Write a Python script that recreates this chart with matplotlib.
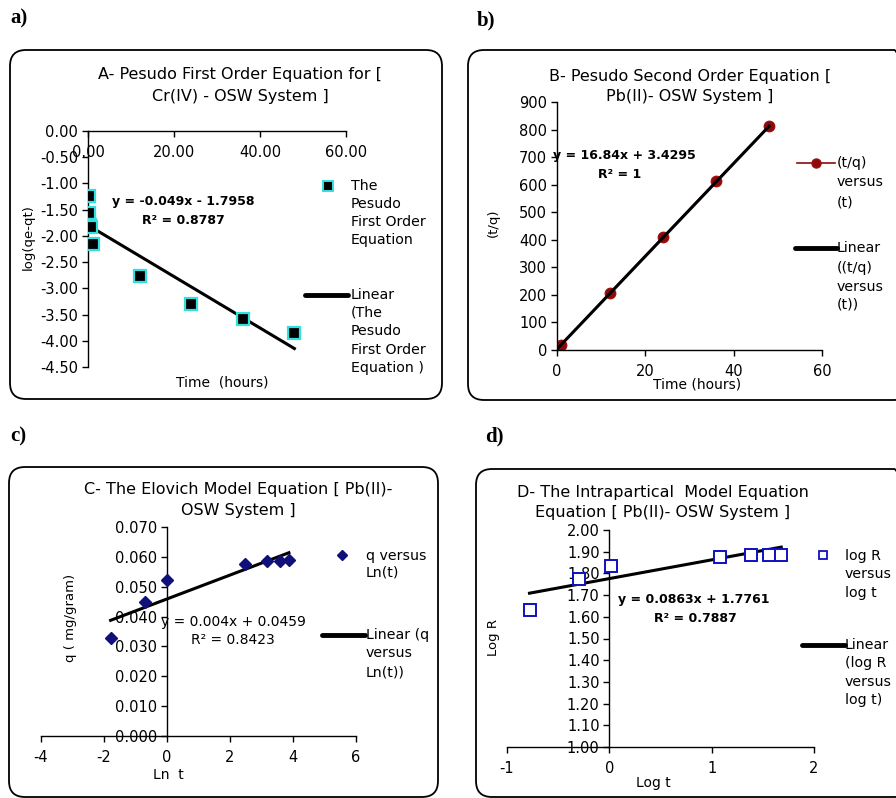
import numpy as np
import matplotlib
matplotlib.use("Agg")
import matplotlib.pyplot as plt
from matplotlib.patches import FancyBboxPatch
from matplotlib.lines import Line2D

plt.rcParams['font.family'] = ['DejaVu Sans']
plt.rcParams['axes.unicode_minus'] = False

# ---------------- data ----------------
A_time = [0.17, 0.25, 0.5, 0.75, 1.2, 12, 24, 36, 48]
A_logq = [-1.23, -1.56, -1.80, -1.83, -2.16, -2.77, -3.29, -3.59, -3.85]
A_slope, A_icpt = -0.049, -1.7958

B_time = [0.17, 0.5, 1, 12, 24, 36, 48]
B_tq = [5, 11, 19, 208, 410, 612, 813]
B_slope, B_icpt = 16.84, 3.4295

C_lnt = [-1.79, -0.69, 0.0, 2.48, 3.18, 3.58, 3.87]
C_q = [0.0327, 0.0450, 0.0523, 0.0577, 0.0586, 0.0587, 0.0590]
C_slope, C_icpt = 0.004, 0.0459

D_logt = [-0.78, -0.30, 0.016, 1.08, 1.38, 1.56, 1.68]
D_logR = [1.630, 1.772, 1.835, 1.877, 1.885, 1.885, 1.887]
D_slope, D_icpt = 0.0863, 1.7761

W, H = 896, 798
fig = plt.figure(figsize=(W / 100, H / 100), dpi=100)
fig.patch.set_facecolor('white')

FS = 10.5    # tick font size
FX = 10      # axis title font size
FL = 10.2    # legend font size
FT = 11.5    # chart title font size


def rect(x0, y0, x1, y1):
    return [x0 / W, 1 - y1 / H, (x1 - x0) / W, (y1 - y0) / H]


def ftxt(x, y, s, **kw):
    kw.setdefault('fontsize', FX)
    kw.setdefault('va', 'center')
    fig.text(x / W, 1 - y / H, s, **kw)


def fbox(x0, y0, x1, y1):
    p = FancyBboxPatch((x0 / 100, (H - y1) / 100), (x1 - x0) / 100, (y1 - y0) / 100,
                       boxstyle="round,pad=0,rounding_size=0.16",
                       transform=fig.dpi_scale_trans, facecolor='none',
                       edgecolor='black', linewidth=1.3)
    fig.add_artist(p)


def fline(x0, x1, y, **kw):
    fig.add_artist(Line2D([x0 / W, x1 / W], [1 - y / H, 1 - y / H],
                          transform=fig.transFigure, **kw))


def fmark(x, y, **kw):
    fig.add_artist(Line2D([x / W], [1 - y / H], transform=fig.transFigure,
                          linestyle='none', **kw))


def legend_text(x, ys, lines):
    for yy, s in zip(ys, lines):
        ftxt(x, yy, s, fontsize=FL, ha='left')


def style_axes(ax, xpos, ypos):
    ax.patch.set_alpha(0)
    ax.spines['top'].set_visible(False)
    ax.spines['right'].set_visible(False)
    ax.spines['bottom'].set_position(('data', xpos))
    ax.spines['left'].set_position(('data', ypos))
    for s in ('bottom', 'left'):
        ax.spines[s].set_linewidth(1.0)
    ax.tick_params(direction='out', length=4, width=1.0, labelsize=FS, pad=3)


# ---------------- boxes and labels ----------------
fbox(10, 50, 442, 399)
fbox(468, 50, 910, 400)
fbox(9, 467, 438, 797)
fbox(476, 469, 910, 797)

for x, y, s in [(10, 18, 'a)'), (477, 20, 'b)'), (10, 436, 'c)'), (485, 436, 'd)')]:
    ftxt(x, y, s, fontsize=15, fontweight='bold', family='Liberation Serif', ha='left')

# ---------------- Panel A ----------------
axA = fig.add_axes(rect(88, 131, 346, 367))
axA.set_xlim(0, 60)
axA.set_ylim(-4.5, 0)
style_axes(axA, 0, 0)
axA.set_xticks([0, 20, 40, 60])
axA.set_xticklabels(['%.2f' % v for v in [0, 20, 40, 60]])
yt = np.arange(0, -4.51, -0.5)
axA.set_yticks(yt)
axA.set_yticklabels(['%.2f' % v for v in yt])
axA.tick_params(axis='x', pad=6)
xa = np.array([min(A_time), max(A_time)])
axA.plot(xa, A_slope * xa + A_icpt, color='black', lw=2.2, zorder=2)
axA.plot(A_time, A_logq, linestyle='none', marker='s', markersize=8.5,
         markerfacecolor='black', markeredgecolor='#33E0E0', markeredgewidth=1.6, zorder=3)

ftxt(240, 75, 'A- Pesudo First Order Equation for [', ha='center', fontsize=FT)
ftxt(240, 97, 'Cr(IV) - OSW System ]', ha='center', fontsize=FT)
ftxt(28, 237, 'log(qe-qt)', rotation=90, ha='center', fontsize=9.5)
ftxt(222, 383, 'Time  (hours)', ha='center')
ftxt(183, 202, 'y = -0.049x - 1.7958', ha='center', fontweight='bold', fontsize=9)
ftxt(183, 221, 'R² = 0.8787', ha='center', fontweight='bold', fontsize=9)
fmark(328, 186, marker='s', markersize=7, markerfacecolor='black',
      markeredgecolor='#33E0E0', markeredgewidth=1.4)
legend_text(351, [186, 204, 222, 240], ['The', 'Pesudo', 'First Order', 'Equation'])
fline(305, 348, 295, color='black', lw=3.5, solid_capstyle='round')
legend_text(351, [295, 313, 331, 350, 368],
            ['Linear', '(The', 'Pesudo', 'First Order', 'Equation )'])

# ---------------- Panel B ----------------
axB = fig.add_axes(rect(557, 102, 822, 350))
axB.set_xlim(0, 60)
axB.set_ylim(0, 900)
style_axes(axB, 0, 0)
axB.set_xticks([0, 20, 40, 60])
axB.set_yticks(np.arange(0, 901, 100))
axB.tick_params(axis='x', pad=6)
axB.plot(B_time, B_tq, color='#8B0A0A', lw=1.2, marker='o', markersize=7.5,
         markerfacecolor='#8B0A0A', markeredgecolor='#A01010', zorder=2)
xb = np.array([min(B_time), max(B_time)])
axB.plot(xb, B_slope * xb + B_icpt, color='black', lw=2.2, zorder=3)

ftxt(690, 77, 'B- Pesudo Second Order Equation [', ha='center', fontsize=FT)
ftxt(690, 97, 'Pb(II)- OSW System ]', ha='center', fontsize=FT)
ftxt(493, 223, '(t/q)', rotation=90, ha='center', fontsize=9.5)
ftxt(697, 385, 'Time (hours)', ha='center')
ftxt(624, 156, 'y = 16.84x + 3.4295', ha='center', fontweight='bold', fontsize=9)
ftxt(620, 174, 'R² = 1', ha='center', fontweight='bold', fontsize=9)
fline(797, 835, 163, color='#8B0A0A', lw=1.2)
fmark(816, 163, marker='o', markersize=6.5, markerfacecolor='#8B0A0A', markeredgecolor='#A01010')
legend_text(837, [163, 182, 202], ['(t/q)', 'versus', '(t)'])
fline(795, 837, 248, color='black', lw=3.5, solid_capstyle='round')
legend_text(837, [248, 268, 287, 305], ['Linear', '((t/q)', 'versus', '(t))'])

# ---------------- Panel C ----------------
axC = fig.add_axes(rect(41, 527, 356, 736))
axC.set_xlim(-4, 6)
axC.set_ylim(0, 0.07)
style_axes(axC, 0, 0)
axC.set_xticks([-4, -2, 0, 2, 4, 6])
axC.set_xticklabels(['-4', '-2', '0', '2', '4', '6'])
yc = np.arange(0, 0.0701, 0.01)
axC.set_yticks(yc)
axC.set_yticklabels(['%.3f' % v for v in yc])
axC.tick_params(axis='x', pad=6)
xc = np.array([min(C_lnt), max(C_lnt)])
axC.plot(xc, C_slope * xc + C_icpt, color='black', lw=2.2, zorder=2)
axC.plot(C_lnt, C_q, linestyle='none', marker='D', markersize=6,
         markerfacecolor='#10107A', markeredgecolor='#10107A', zorder=3)

ftxt(238, 489, 'C- The Elovich Model Equation [ Pb(II)-', ha='center', fontsize=FT)
ftxt(238, 510, 'OSW System ]', ha='center', fontsize=FT)
ftxt(70, 618, 'q ( mg/gram)', rotation=90, ha='center', fontsize=9.5)
ftxt(168, 775, 'Ln  t', ha='center')
ftxt(233, 622, 'y = 0.004x + 0.0459', ha='center')
ftxt(233, 640, 'R² = 0.8423', ha='center')
fmark(342, 555, marker='D', markersize=5, markerfacecolor='#10107A', markeredgecolor='#10107A')
legend_text(366, [556, 573], ['q versus', 'Ln(t)'])
fline(322, 365, 635, color='black', lw=3.5, solid_capstyle='round')
legend_text(366, [635, 653, 672], ['Linear (q', 'versus', 'Ln(t))'])

# ---------------- Panel D ----------------
axD = fig.add_axes(rect(507, 530, 814, 747))
axD.set_xlim(-1, 2)
axD.set_ylim(1, 2)
style_axes(axD, 1, 0)
axD.set_xticks([-1, 0, 1, 2])
axD.set_xticklabels(['-1', '0', '1', '2'])
yd = np.arange(1.0, 2.001, 0.1)
axD.set_yticks(yd)
axD.set_yticklabels(['%.2f' % v for v in yd])
axD.tick_params(axis='x', pad=6)
xd = np.array([min(D_logt), max(D_logt)])
axD.plot(xd, D_slope * xd + D_icpt, color='black', lw=2.2, zorder=2)
axD.plot(D_logt, D_logR, linestyle='none', marker='s', markersize=8,
         markerfacecolor='white', markeredgecolor='#1010C0', markeredgewidth=1.4, zorder=3)

ftxt(663, 492, 'D- The Intrapartical  Model Equation', ha='center', fontsize=FT)
ftxt(663, 512, 'Equation [ Pb(II)- OSW System ]', ha='center', fontsize=FT)
ftxt(493, 637, 'Log R', rotation=90, ha='center', fontsize=9.5)
ftxt(653, 783, 'Log t', ha='center')
ftxt(694, 599, 'y = 0.0863x + 1.7761', ha='center', fontweight='bold', fontsize=9)
ftxt(695, 618, 'R² = 0.7887', ha='center', fontweight='bold', fontsize=9)
fmark(823, 555, marker='s', markersize=6, markerfacecolor='white',
      markeredgecolor='#1010C0', markeredgewidth=1.3)
legend_text(845, [556, 574, 593], ['log R', 'versus', 'log t'])
fline(802, 845, 645, color='black', lw=3.5, solid_capstyle='round')
legend_text(845, [645, 663, 682, 700], ['Linear', '(log R', 'versus', 'log t)'])

fig.savefig('out.png', dpi=100, facecolor='white')
